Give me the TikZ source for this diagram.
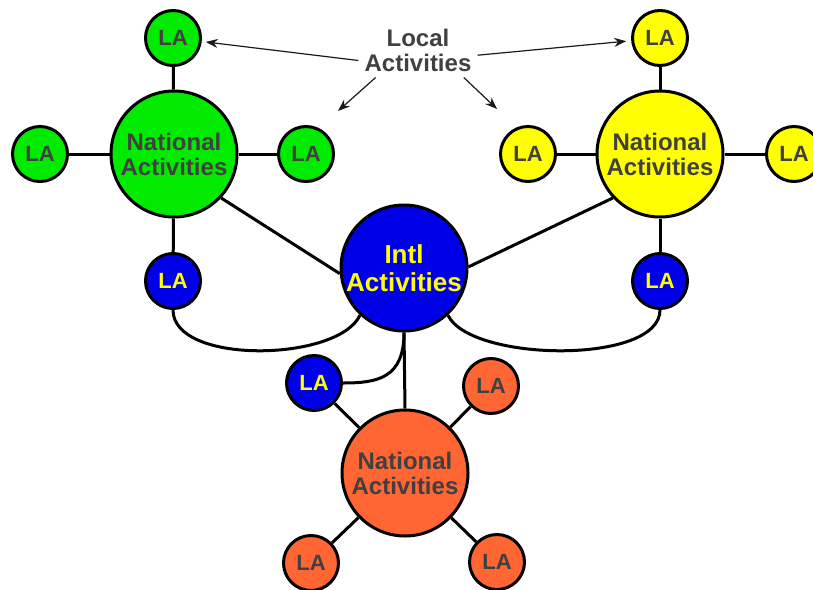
\documentclass[tikz,border=0pt]{standalone}
\usepackage{fontspec}
\setmainfont{Liberation Sans}
\usetikzlibrary{arrows.meta}
\definecolor{natgreen}{RGB}{0,235,0}
\definecolor{natyellow}{RGB}{255,255,0}
\definecolor{intlblue}{RGB}{0,0,232}
\definecolor{natorange}{RGB}{255,102,51}
\definecolor{txt}{RGB}{64,64,64}

\begin{document}
\begin{tikzpicture}[x=1pt,y=-1pt,
  nat/.style={circle,draw,line width=3pt,minimum size=126pt,inner sep=0pt,align=center,text=txt,font=\fontsize{24}{25}\selectfont\bfseries},
  intl/.style={nat,fill=intlblue,text=natyellow,font=\fontsize{26}{28}\selectfont\bfseries},
  la/.style={circle,draw,line width=3pt,minimum size=55pt,inner sep=0pt,text=txt,font=\fontsize{22}{22}\selectfont\bfseries},
  bla/.style={la,fill=intlblue,text=natyellow},
  link/.style={line width=3pt},
  ar/.style={-{Stealth[length=12pt,width=9pt]},line width=1.2pt,draw=black!90}
]
\useasboundingbox (0,0) rectangle (813,589);
\node[nat,fill=natgreen] (gn) at (174,154) {National\\Activities};
\node[la,fill=natgreen] (gt) at (173,38) {LA};
\node[la,fill=natgreen] (gl) at (40,154) {LA};
\node[la,fill=natgreen] (gr) at (306,154) {LA};
\node[bla] (gb) at (173,281) {LA};
\node[nat,fill=natyellow] (yn) at (660,154) {National\\Activities};
\node[la,fill=natyellow] (yt) at (660,38) {LA};
\node[la,fill=natyellow] (yl) at (528,154) {LA};
\node[la,fill=natyellow] (yr) at (794,154) {LA};
\node[bla] (yb) at (660,281) {LA};
\node[intl] (in) at (404,268) {Intl\\Activities};
\node[nat,fill=natorange] (on) at (405,473) {National\\Activities};
\node[bla] (ob) at (314,383) {LA};
\node[la,fill=natorange] (otr) at (491,386) {LA};
\node[la,fill=natorange] (obl) at (311,563) {LA};
\node[la,fill=natorange] (obr) at (497,562) {LA};
\node[align=center,inner sep=6pt,text=txt,font=\fontsize{24}{25}\selectfont\bfseries] (loc) at (418,50) {Local\\Activities};
\coordinate (lgap) at (338,111);
\coordinate (rgap) at (497,109);
\draw[link] (gn)--(gt); \draw[link] (gn)--(gl); \draw[link] (gn)--(gr); \draw[link] (gn)--(gb);
\draw[link] (yn)--(yt); \draw[link] (yn)--(yl); \draw[link] (yn)--(yr); \draw[link] (yn)--(yb);
\draw[link] (gn.-43)--(in.185); \draw[link] (yn.223)--(in.1);
\draw[link] (gb.south) .. controls (173,365) and (338,362) .. (in.227);
\draw[link] (in.313) .. controls (470,362) and (660,365) .. (yb.south);
\draw[link] (in.south)--(on.north);
\draw[link] (in.south) .. controls (404,378) and (378,383) .. (ob.east);
\draw[link] (ob)--(on); \draw[link] (on)--(otr); \draw[link] (on)--(obl); \draw[link] (on)--(obr);
\draw[ar,shorten >=4pt] (loc.190)--(gt); \draw[ar,shorten >=5pt] (loc.-5)--(yt);
\draw[ar] (loc.213)--(lgap); \draw[ar] (loc.-31)--(rgap);
\end{tikzpicture}
\end{document}
